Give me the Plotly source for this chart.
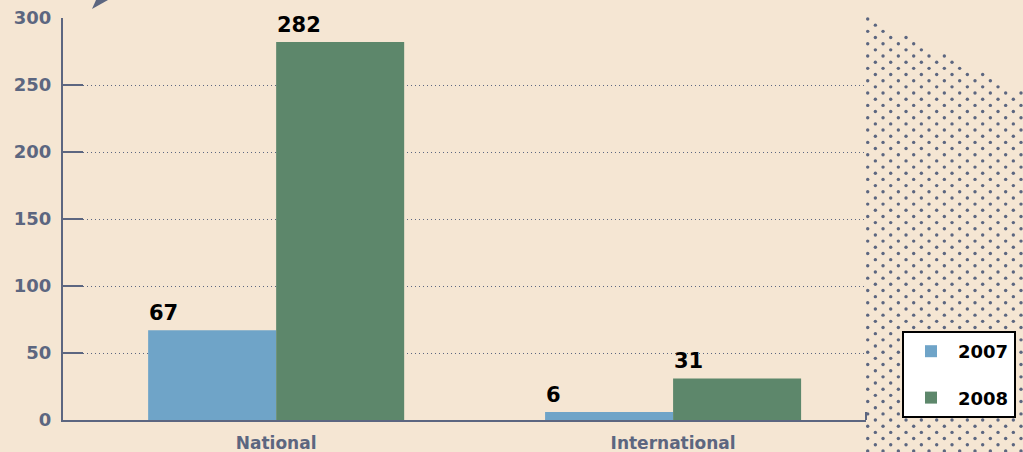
import plotly.graph_objects as go

# ---- data ----
categories = ["National", "International"]
years = ["2007", "2008"]
values_2007 = [67, 6]
values_2008 = [282, 31]
y_ticks = [0, 50, 100, 150, 200, 250, 300]

# ---- style ----
W, H = 1023, 452
BG = "#f5e6d3"
AXC = "#5c6680"
C2007 = "#6fa4c8"
C2008 = "#5d876b"
FONT = "'DejaVu Sans', sans-serif"

PL, PR, PT, PB = 63, 866, 18, 420  # plot box in pixels
BARGAP = 0.355
XR = [-0.537, 1.486]

fig = go.Figure()
series = [(years[0], values_2007, C2007), (years[1], values_2008, C2008)]
for name, vals, col in series:
    fig.add_trace(go.Bar(
        x=categories, y=vals, name=name, marker=dict(color=col, line=dict(width=0)),
        legendgroup=name, hoverinfo="skip", xaxis="x", yaxis="y"))

# value labels (left-aligned on each bar)
bw = (1 - BARGAP) / 2
for si, (name, vals, col) in enumerate(series):
    for ci, v in enumerate(vals):
        fig.add_annotation(
            x=ci - bw + si * bw, y=v, xref="x", yref="y", text=str(v),
            showarrow=False, xanchor="left", yanchor="bottom", xshift=-1, yshift=3,
            font=dict(family=FONT, size=21, color="#000000", weight="bold"))

# decorative dot pattern (pixel coordinates overlay)
dx, dy = 15.33, 6.17
x0, y0 = 867.7, 19.0
dots_x, dots_y = [], []
k = 0
y = y0
while y < H + 4:
    x = x0 + (k % 2) * dx / 2
    while x < W + 4:
        if y >= y0 + (x - x0) * 0.49 - 1.5:
            dots_x.append(x)
            dots_y.append(y)
        x += dx
    y += dy
    k += 1
fig.add_trace(go.Scatter(
    x=dots_x, y=dots_y, mode="markers", xaxis="x2", yaxis="y2",
    marker=dict(size=3.4, color=AXC, line=dict(width=0)),
    hoverinfo="skip", showlegend=False))

# small decorations
fig.add_shape(type="path", path="M 92 9 L 96 0 L 108 0 Z", xref="x2", yref="y2",
              fillcolor=AXC, line=dict(width=0))
fig.add_shape(type="line", x0=PR, x1=PR, y0=412, y1=PB, xref="x2", yref="y2",
              line=dict(color=AXC, width=2))

fig.update_layout(
    width=W, height=H,
    margin=dict(l=0, r=0, t=0, b=0),
    paper_bgcolor=BG, plot_bgcolor="rgba(0,0,0,0)",
    barmode="group", bargap=BARGAP, bargroupgap=0,
    showlegend=True,
    legend=dict(
        x=902 / W, y=1 - 331 / H, xanchor="left", yanchor="top",
        bgcolor="#ffffff", bordercolor="#000000", borderwidth=2,
        font=dict(family=FONT, size=18, color="#000000", weight="bold"),
        tracegroupgap=20, traceorder="grouped", itemwidth=44,
        entrywidth=120, entrywidthmode="pixels",
    ),
    xaxis=dict(
        domain=[PL / W, PR / W], range=XR, type="category",
        showline=True, linecolor=AXC, linewidth=2, showgrid=False, ticks="",
        tickfont=dict(family=FONT, size=17, color=AXC, weight="bold"),
        ticklabelstandoff=7, automargin=False, fixedrange=True, anchor="y",
    ),
    yaxis=dict(
        domain=[1 - PB / H, 1 - PT / H], range=[0, 300], tickvals=y_ticks,
        showline=True, linecolor=AXC, linewidth=2,
        ticks="inside", ticklen=20, tickwidth=2, tickcolor=AXC,
        showgrid=True, gridcolor=AXC, gridwidth=1.2, griddash="1px,3px",
        zeroline=False,
        tickfont=dict(family=FONT, size=18, color=AXC, weight="bold"),
        ticklabelstandoff=6, automargin=False, fixedrange=True, anchor="x",
    ),
    xaxis2=dict(domain=[0, 1], range=[0, W], visible=False, anchor="y2", fixedrange=True),
    yaxis2=dict(domain=[0, 1], range=[H, 0], visible=False, anchor="x2", fixedrange=True),
)

fig.write_html("out.html", config={"displayModeBar": False},
               post_script="document.body.style.margin='0';document.body.style.overflow='hidden';")
